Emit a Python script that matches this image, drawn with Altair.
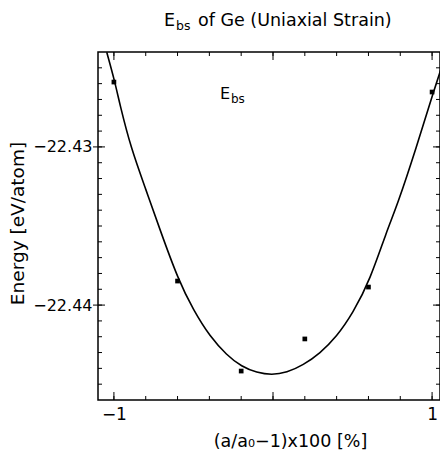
import altair as alt
import pandas as pd

# ---- data ----
pts_x = [-1.0, -0.6, -0.2, 0.2, 0.6, 1.0]
pts_y = [-22.42590, -22.43848, -22.44417, -22.44214, -22.43886, -22.42653]

curve_x = [-1.045, -0.993, -0.962, -0.893, -0.798, -0.710, -0.595, -0.501, -0.396,
           -0.291, -0.197, -0.102, -0.008, 0.086, 0.190, 0.295, 0.400, 0.503,
           0.610, 0.717, 0.778, 0.903, 1.006, 1.092]
curve_y = [-22.42402, -22.42592, -22.42735, -22.43007, -22.43272, -22.43525,
           -22.43841, -22.44031, -22.44200, -22.44316, -22.44390, -22.44427,
           -22.44442, -22.44427, -22.44379, -22.44305, -22.44200, -22.44050,
           -22.43841, -22.43525, -22.43378, -22.42999, -22.42659, -22.42398]

x_labels = [-1, 1]
y_labels = [-22.43, -22.44]
x_major = [-1.0, 0.0, 1.0]
x_minor = [-1.0, -0.8, -0.6, -0.4, -0.2, 0.0, 0.2, 0.4, 0.6, 0.8, 1.0]
y_major = [-22.43, -22.44]
y_minor = [-22.445, -22.444, -22.443, -22.442, -22.441, -22.440, -22.439,
           -22.438, -22.437, -22.436, -22.435, -22.434, -22.433, -22.432,
           -22.431, -22.430, -22.429, -22.428, -22.427, -22.426, -22.425]

W, H = 342, 348
FONT = "DejaVu Sans"

xs = alt.Scale(domain=[-1.1, 1.0497], nice=False, zero=False)
ys = alt.Scale(domain=[-22.446, -22.424], nice=False, zero=False)

x_axis = alt.Axis(
    values=x_labels, format="d", ticks=False, tickSize=0, domain=False, grid=False,
    labelFont=FONT, labelFontSize=17, labelColor="black", labelPadding=6,
    title="(a/a₀−1)x100 [%]", titleFont=FONT, titleFontSize=17.5,
    titleFontWeight="normal", titleColor="black", titleX=192, titleY=46,
    titleAlign="center", titleBaseline="alphabetic")
y_axis = alt.Axis(
    values=y_labels, format=".2f", ticks=False, tickSize=0, domain=False, grid=False,
    labelFont=FONT, labelFontSize=16, labelColor="black", labelPadding=6,
    title="Energy [eV/atom]", titleFont=FONT, titleFontSize=18.5,
    titleFontWeight="normal", titleColor="black", titleX=-75, titleY=171,
    titleAngle=270, titleAlign="center", titleBaseline="alphabetic")

curve_df = pd.DataFrame({"x": curve_x, "y": curve_y})
pts_df = pd.DataFrame({"x": pts_x, "y": pts_y})

line = alt.Chart(curve_df).mark_line(
    color="black", strokeWidth=1.6, clip=True, interpolate="basis"
).encode(
    x=alt.X("x:Q", scale=xs, axis=x_axis),
    y=alt.Y("y:Q", scale=ys, axis=y_axis),
)

points = alt.Chart(pts_df).mark_square(size=22, color="black", opacity=1).encode(
    x=alt.X("x:Q", scale=xs, axis=x_axis),
    y=alt.Y("y:Q", scale=ys, axis=y_axis),
)

layers = [line, points]


def xticks(vals, y0, y1):
    return alt.Chart(pd.DataFrame({"x": vals})).mark_rule(color="black", strokeWidth=1).encode(
        x=alt.X("x:Q", scale=xs, axis=x_axis), y=alt.value(y0), y2=alt.value(y1))


def yticks(vals, x0, x1):
    return alt.Chart(pd.DataFrame({"y": vals})).mark_rule(color="black", strokeWidth=1).encode(
        y=alt.Y("y:Q", scale=ys, axis=y_axis), x=alt.value(x0), x2=alt.value(x1))


layers += [
    xticks(x_minor, H, H - 4), xticks(x_major, H, H - 8),
    xticks(x_minor, 0, 4), xticks(x_major, 0, 8),
    yticks(y_minor, 0, 4), yticks(y_major, 0, 7), yticks(y_major, 0, -5),
    yticks(y_minor, W, W - 4), yticks(y_major, W, W - 7),
]

one = pd.DataFrame({"a": [0]})


def label(txt, x, y, size):
    return alt.Chart(one).mark_text(
        text=txt, align="left", baseline="alphabetic", font=FONT, fontSize=size, color="black"
    ).encode(x=alt.value(x), y=alt.value(y))


layers += [
    label("E", 66, -26, 17.5), label("bs", 78, -22, 12.5), label("of Ge (Uniaxial Strain)", 100, -26, 17.5),
    label("E", 122, 47, 16), label("bs", 133, 51, 12),
]

chart = alt.layer(*layers).properties(
    width=W, height=H, autosize="none",
    padding={"left": 90, "top": 44, "right": 0, "bottom": 50},
).configure_view(stroke="black", strokeWidth=1.5)

chart.save("out.html", embed_options={"renderer": "svg", "actions": False})
